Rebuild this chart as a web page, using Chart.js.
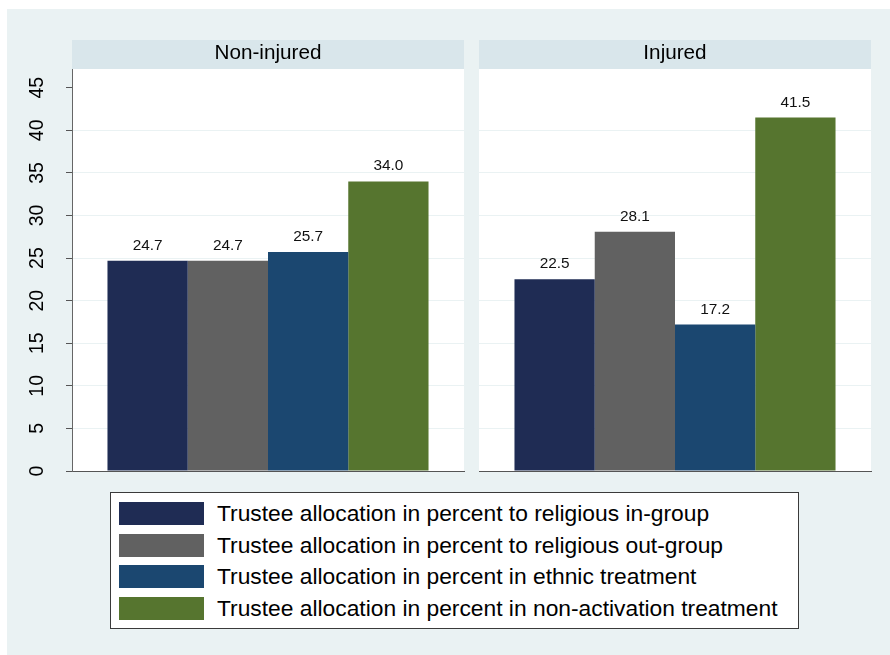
<!DOCTYPE html>
<html lang="en">
<head>
<meta charset="UTF-8">
<title>Trustee allocation by injury status</title>
<script src="https://cdn.jsdelivr.net/npm/chart.js"></script>
<style>
    body {
        margin: 0;
        width: 890px;
        height: 655px;
        position: relative;
        overflow: hidden;
        background: #fff;
        font-family: "Liberation Sans", Arial, sans-serif;
    }
    #bg { position: absolute; left: 7px; top: 9px; right: 0; bottom: 0; background: #eaf2f3; }
    #leftChart { position: absolute; left: 0; top: 0; }
    #rightChart { position: absolute; left: 470px; top: 0; }
    #legend {
        position: absolute;
        left: 110px;
        top: 492px;
        width: 687px;
        height: 135px;
        background: #fff;
        border: 1px solid #3a3a3a;
    }
    .row { position: absolute; left: 8px; height: 23px; display: flex; align-items: center; }
    .swatch { width: 85px; height: 23px; }
    .label { margin-left: 13px; font-size: 22.8px; line-height: 23px; color: #000; white-space: nowrap; }
</style>
</head>
<body>
<div id="bg"></div>
<canvas id="leftChart" width="470" height="480"></canvas>
<canvas id="rightChart" width="420" height="480"></canvas>
<div id="legend"></div>

<script>
    // data
    const panels = ['Non-injured', 'Injured'];
    const seriesNames = [
        'Trustee allocation in percent to religious in-group',
        'Trustee allocation in percent to religious out-group',
        'Trustee allocation in percent in ethnic treatment',
        'Trustee allocation in percent in non-activation treatment'
    ];
    const inGroup = [24.7, 22.5];
    const outGroup = [24.7, 28.1];
    const ethnic = [25.7, 17.2];
    const nonActivation = [34.0, 41.5];
    const yTicks = [0, 5, 10, 15, 20, 25, 30, 35, 40, 45];
    const yMax = 47.2;

    const seriesValues = [inGroup, outGroup, ethnic, nonActivation];
    const seriesColors = ['#1f2c54', '#616161', '#1b4770', '#56752f'];

    // white plot area + light blue strip with the panel name
    const panelPlugin = {
        id: 'panelPlugin',
        beforeDraw(chart, args, opts) {
            const a = chart.chartArea;
            const ctx = chart.ctx;
            ctx.save();
            ctx.fillStyle = '#d9e6eb';
            ctx.fillRect(a.left, a.top - 29, a.right - a.left, 29);
            ctx.fillStyle = '#fff';
            ctx.fillRect(a.left, a.top, a.right - a.left, a.bottom - a.top);
            ctx.fillStyle = '#000';
            ctx.font = '20.7px "Liberation Sans", Arial, sans-serif';
            ctx.textAlign = 'center';
            ctx.textBaseline = 'alphabetic';
            ctx.fillText(opts.title, (a.left + a.right) / 2, a.top - 10);
            ctx.restore();
        }
    };

    // value above each bar
    const valuePlugin = {
        id: 'valuePlugin',
        afterDatasetsDraw(chart) {
            const ctx = chart.ctx;
            ctx.save();
            ctx.fillStyle = '#111';
            ctx.font = '15.4px "Liberation Sans", Arial, sans-serif';
            ctx.textAlign = 'center';
            ctx.textBaseline = 'alphabetic';
            chart.data.datasets.forEach((ds, i) => {
                chart.getDatasetMeta(i).data.forEach((bar, j) => {
                    ctx.fillText(ds.data[j].toFixed(1), bar.x, bar.y - 11);
                });
            });
            ctx.restore();
        }
    };

    // rotated y tick labels, Stata style
    const yLabelPlugin = {
        id: 'yLabelPlugin',
        afterDraw(chart, args, opts) {
            if (!opts.show) return;
            const scale = chart.scales.y;
            const ctx = chart.ctx;
            ctx.save();
            ctx.fillStyle = '#000';
            ctx.font = '19.5px "Liberation Sans", Arial, sans-serif';
            ctx.textAlign = 'center';
            ctx.textBaseline = 'alphabetic';
            scale.ticks.forEach(t => {
                const y = scale.getPixelForValue(t.value);
                ctx.save();
                ctx.translate(scale.right - 29, y);
                ctx.rotate(-Math.PI / 2);
                ctx.fillText(String(t.value), 0, 0);
                ctx.restore();
            });
            ctx.restore();
        }
    };

    function gridColor(c) {
        const v = c.tick ? c.tick.value : null;
        return (v === 0 || v === 45) ? 'rgba(0,0,0,0)' : '#eaf2f3';
    }

    function createPanel(canvasId, p, withAxis, padding) {
        const datasets = seriesNames.map((name, i) => ({
            label: name,
            data: [seriesValues[i][p]],
            backgroundColor: seriesColors[i],
            borderWidth: 0,
            categoryPercentage: 0.819,
            barPercentage: 1
        }));

        return new Chart(document.getElementById(canvasId), {
            type: 'bar',
            data: { labels: [panels[p]], datasets: datasets },
            plugins: [panelPlugin, valuePlugin, yLabelPlugin],
            options: {
                responsive: false,
                animation: false,
                layout: { padding: padding },
                plugins: {
                    legend: { display: false },
                    tooltip: { enabled: false },
                    panelPlugin: { title: panels[p] },
                    yLabelPlugin: { show: withAxis }
                },
                scales: {
                    x: {
                        ticks: { display: false },
                        grid: { display: true, color: 'rgba(0,0,0,0)', drawTicks: false },
                        border: { display: true, color: '#555', width: 1 },
                        afterFit(s) { s.height = 0; }
                    },
                    y: {
                        min: 0,
                        max: yMax,
                        afterBuildTicks(s) { s.ticks = yTicks.map(v => ({ value: v })); },
                        ticks: { display: false },
                        grid: {
                            color: gridColor,
                            lineWidth: 1,
                            drawTicks: withAxis,
                            tickLength: 6,
                            tickColor: '#555'
                        },
                        border: { display: withAxis, color: '#666', width: 1 },
                        afterFit(s) { s.width = withAxis ? 72 : 0; }
                    }
                }
            }
        });
    }

    createPanel('leftChart', 0, true, { left: 0, right: 6, top: 69, bottom: 9 });
    createPanel('rightChart', 1, false, { left: 9, right: 19, top: 69, bottom: 9 });

    // legend box below both panels
    const legend = document.getElementById('legend');
    seriesNames.forEach((name, i) => {
        const row = document.createElement('div');
        row.className = 'row';
        row.style.top = (9 + i * 31.5) + 'px';
        const sw = document.createElement('div');
        sw.className = 'swatch';
        sw.style.background = seriesColors[i];
        const lb = document.createElement('div');
        lb.className = 'label';
        lb.textContent = name;
        row.appendChild(sw);
        row.appendChild(lb);
        legend.appendChild(row);
    });
</script>
</body>
</html>
